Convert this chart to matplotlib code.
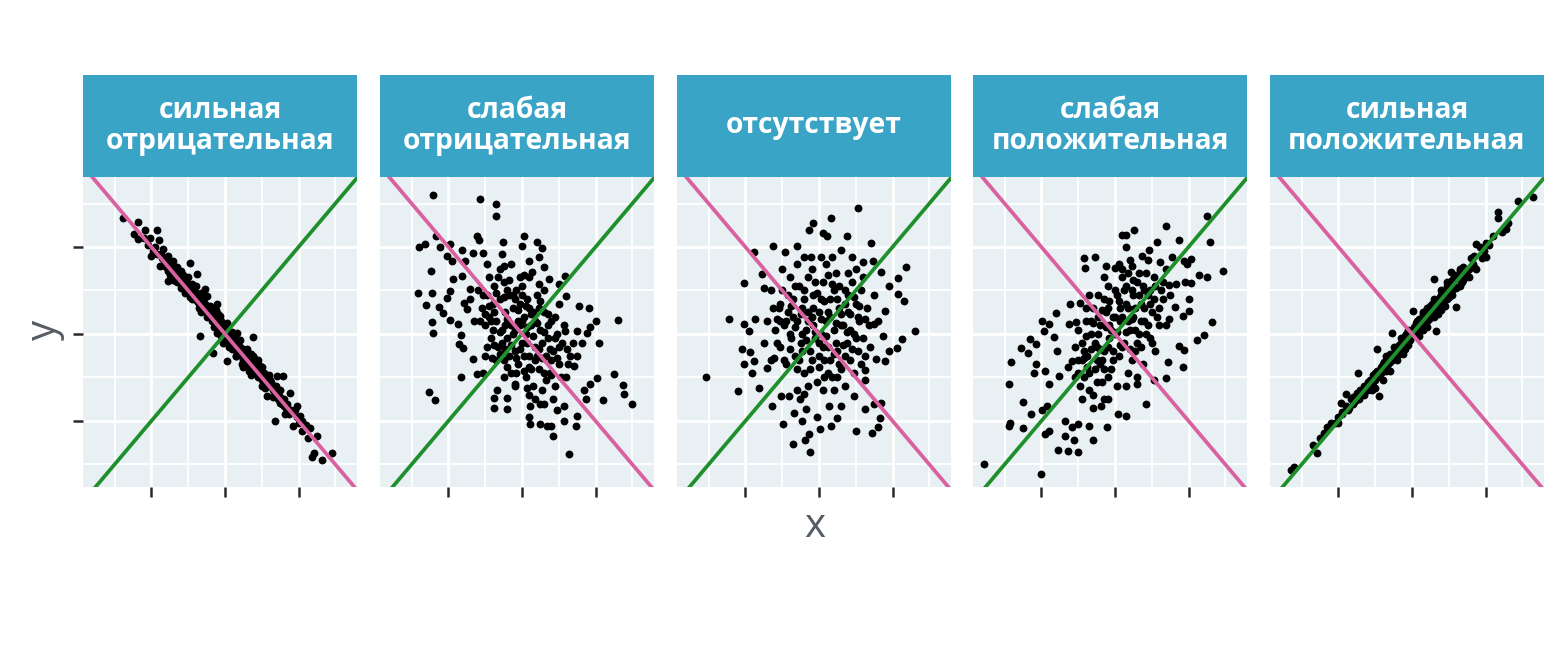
import numpy as np
import matplotlib.pyplot as plt
import matplotlib as mpl

mpl.rcParams.update({
    "font.family": ["Open Sans", "DejaVu Sans"],
})

# -------------------------
# Data (standardised units)
# -------------------------

titles = [
    "сильная\nотрицательная",
    "слабая\nотрицательная",
    "отсутствует",
    "слабая\nположительная",
    "сильная\nположительная",
]

pts_strong_neg = [
    (-2.77, 2.66), (-2.36, 2.57), (-2.48, 2.30), (-2.36, 2.18), (-2.18, 2.38), (-1.86, 2.40),
    (-1.80, 2.15), (-2.00, 1.80), (-1.68, 1.95), (-1.77, 1.57), (-1.55, 1.80), (-1.41, 1.68),
    (-1.55, 1.22), (-1.32, 1.49), (-0.95, 1.63), (-1.23, 1.34), (-1.14, 1.11), (-0.77, 1.38),
    (-0.86, 1.03), (-0.55, 1.03), (-0.50, 0.88), (-0.23, 0.68), (-0.68, -0.05), (-0.36, 0.57),
    (-0.14, 0.42), (0.05, 0.26), (-0.23, 0.03), (-0.32, -0.43), (-0.05, -0.20), (0.14, -0.05),
    (0.32, 0.03), (0.75, -0.06), (0.05, -0.62), (0.32, -0.43), (0.50, -0.35), (0.59, -0.66),
    (0.77, -0.51), (0.95, -0.74), (1.05, -0.89), (1.23, -1.05), (1.41, -0.97), (1.59, -0.97),
    (1.77, -1.35), (1.14, -1.43), (1.41, -1.28), (1.50, -1.58), (1.36, -2.01), (1.64, -1.85),
    (1.95, -1.66), (1.86, -2.12), (2.05, -1.89), (2.09, -2.24), (2.32, -2.16), (2.50, -2.35),
    (2.27, -2.39), (2.41, -2.74), (2.64, -2.89), (2.91, -2.74), (2.36, -2.82),
    (-1.90, 2.00), (-1.85, 1.85), (-1.70, 1.75), (-1.60, 1.70), (-1.60, 1.55), (-1.50, 1.60),
    (-1.45, 1.45), (-1.40, 1.55), (-1.35, 1.35), (-1.30, 1.40), (-1.25, 1.25), (-1.20, 1.30),
    (-1.15, 1.20), (-1.10, 1.10), (-1.05, 1.20), (-1.00, 1.00), (-0.95, 1.10), (-0.90, 0.95),
    (-0.85, 0.85), (-0.80, 0.95), (-0.75, 0.75), (-0.70, 0.85), (-0.65, 0.70), (-0.60, 0.60),
    (-0.55, 0.70), (-0.50, 0.50), (-0.45, 0.60), (-0.40, 0.40), (-0.35, 0.45), (-0.30, 0.30),
    (-0.25, 0.35), (-0.20, 0.15), (-0.15, 0.25), (-0.10, 0.10), (-0.05, 0.00), (0.00, 0.05),
    (0.05, -0.10), (0.10, 0.00), (0.15, -0.20), (0.20, -0.10), (0.25, -0.30), (0.30, -0.20),
    (0.35, -0.40), (0.40, -0.30), (0.45, -0.50), (0.50, -0.45), (0.55, -0.60), (0.60, -0.50),
    (0.65, -0.70), (0.70, -0.60), (0.75, -0.80), (0.80, -0.70), (0.85, -0.90), (0.90, -0.80),
    (0.95, -1.00), (1.00, -0.90), (1.05, -1.10), (1.10, -1.00), (1.20, -1.20), (1.25, -1.10),
    (1.30, -1.30), (1.40, -1.35), (1.50, -1.45), (1.60, -1.50), (1.70, -1.60), (1.80, -1.75),
    (1.95, -1.90), (2.10, -2.00), (2.20, -2.10), (-1.20, 1.05), (-0.90, 1.15), (-0.65, 0.95),
    (-0.40, 0.65), (-0.10, 0.30), (0.20, -0.35), (0.45, -0.70), (0.70, -0.95), (1.00, -1.20),
    (-1.00, 1.30), (-0.70, 0.60), (-0.30, 0.15), (0.25, -0.05), (0.60, -0.35), (0.90, -0.60),
    (-2.20, 2.20), (-2.10, 2.05), (-2.05, 2.20), (-1.95, 1.90), (-1.75, 1.85), (-1.65, 1.60),
    (-1.45, 1.65), (-1.35, 1.50), (-1.20, 1.15), (-1.10, 1.30), (-0.95, 0.85), (-0.85, 1.00),
    (-0.75, 0.90), (-0.60, 0.75), (-0.50, 0.65), (-0.45, 0.45), (-0.35, 0.30), (-0.20, 0.30),
    (-0.15, 0.10), (0.00, -0.10), (0.10, -0.15), (0.20, -0.25), (0.30, -0.35), (0.40, -0.45),
    (0.50, -0.60), (0.60, -0.70), (0.70, -0.75), (0.85, -0.75), (0.90, -1.00), (1.00, -1.05),
    (1.15, -1.15), (1.30, -1.20), (1.45, -1.50), (1.55, -1.60), (1.65, -1.70), (1.75, -1.85),
    (1.90, -1.75), (2.00, -2.05), (-0.25, 0.55), (0.15, 0.05),
    (-1.55, 1.45), (-1.30, 1.20), (-1.05, 1.05), (-0.80, 0.80), (-0.55, 0.55), (-0.30, 0.40),
    (-0.05, 0.15), (0.20, -0.20), (0.45, -0.40), (0.70, -0.70), (0.95, -0.90), (1.20, -1.10),
    (1.35, -1.40), (-0.65, 0.50), (0.30, -0.50), (0.80, -0.55), (1.10, -1.25), (-1.15, 1.35),
    (-1.50, 1.35), (-1.40, 1.25), (-1.30, 1.55), (-1.20, 1.45), (-1.10, 0.95), (-1.00, 1.15),
    (-0.90, 0.80), (-0.80, 1.10), (-0.70, 0.70), (-0.60, 0.90), (-0.50, 0.40), (-0.40, 0.55),
    (-0.30, 0.50), (-0.20, 0.45), (-0.10, -0.05), (0.00, 0.20), (0.10, -0.30), (0.20, 0.05),
    (0.30, -0.50), (0.40, -0.15), (0.50, -0.75), (0.60, -0.60), (0.70, -0.45), (0.80, -0.90),
    (0.90, -0.70), (1.00, -0.75), (1.10, -1.15), (1.20, -0.95), (1.30, -1.45), (1.40, -1.20),
    (1.50, -1.30), (1.60, -1.65), (-0.55, 0.85), (0.35, -0.25), (0.65, -0.85),
]

pts_weak_neg = [
    (-2.43, 3.20), (-1.14, 3.11), (-0.70, 2.99), (-0.70, 2.71), (-2.79, 1.99), (-2.64, 2.07),
    (-2.34, 2.25), (-2.23, 1.99), (-2.05, 1.80), (-1.95, 2.07), (-1.91, 1.68), (-1.64, 1.92),
    (-1.55, 1.68), (-1.23, 2.26), (-1.18, 2.15), (-1.32, 1.86), (-1.06, 1.86), (-0.52, 2.12),
    (-0.55, 1.84), (-0.50, 1.57), (0.05, 2.25), (0.00, 2.03), (0.41, 2.11), (0.55, 1.97),
    (0.45, 1.76), (0.18, 1.68), (0.59, 1.53), (0.27, 1.42), (0.05, 1.35), (0.73, 1.26),
    (1.00, 1.15), (1.18, 1.34), (1.21, 0.88), (1.00, 0.68), (1.55, 0.65), (1.82, 0.59),
    (2.00, 0.30), (2.62, 0.32), (1.86, 0.15), (2.09, -0.20), (1.77, 0.03), (1.50, 0.07),
    (1.64, -0.20), (1.18, 0.07), (1.23, -0.35), (1.50, -0.51), (1.41, -0.74), (2.05, -1.01),
    (2.50, -0.91), (2.75, -1.18), (2.77, -1.39), (3.00, -1.62), (2.20, -1.52), (1.86, -1.16),
    (1.68, -1.28), (1.75, -1.49), (1.50, -1.88), (1.48, -2.11), (1.27, -2.75), (0.85, -2.35),
    (0.79, -2.12), (0.68, -2.11), (0.48, -2.06), (0.23, -2.08), (0.18, -1.91), (0.59, -1.62),
    (0.23, -1.66), (1.14, -1.66), (0.95, -1.74), (1.14, -2.01), (-0.77, -1.70), (-0.41, -1.72),
    (-0.77, -1.47), (-0.41, -1.47), (-0.68, -1.28), (-0.18, -1.16), (-2.52, -1.34), (-2.36, -1.51),
    (-1.66, -1.00), (-1.23, -0.91), (-1.06, -0.89), (-0.82, -0.55), (-1.32, -0.57), (-1.61, -0.32),
    (-1.70, -0.24), (-1.66, -0.03), (-2.41, 0.02), (-2.45, 0.28), (-1.97, 0.32), (-2.14, 0.49),
    (-2.25, 0.61), (-2.62, 0.67), (-2.84, 0.95), (-2.45, 0.95), (-2.48, 1.45), (-2.05, 0.82),
    (-1.97, 0.99), (-1.88, 1.26), (-1.73, 0.22), (-1.50, 0.57), (-1.57, 0.72), (-1.41, 1.03),
    (-1.64, 1.34),
    (-1.10, 0.60), (-1.00, 0.20), (-0.95, 0.90), (-0.90, 0.40), (-0.85, -0.10), (-0.80, 0.70),
    (-0.75, 1.10), (-0.70, 0.30), (-0.65, -0.30), (-0.60, 0.80), (-0.55, 0.10), (-0.50, 1.20),
    (-0.50, -0.60), (-0.45, 0.50), (-0.40, -0.10), (-0.35, 0.90), (-0.30, 0.20), (-0.30, -0.90),
    (-0.25, 0.60), (-0.20, -0.40), (-0.15, 1.00), (-0.10, 0.30), (-0.10, -0.70), (-0.05, 0.70),
    (0.00, -0.20), (0.05, 0.40), (0.10, -1.00), (0.10, 0.00), (0.15, 0.80), (0.20, -0.50),
    (0.25, 0.20), (0.30, -1.20), (0.30, 0.50), (0.35, -0.30), (0.40, 0.90), (0.45, -0.80),
    (0.50, 0.10), (0.55, -1.30), (0.60, 0.50), (0.65, -0.50), (0.70, -0.10), (0.75, -0.90),
    (0.80, 0.30), (0.85, -0.40), (0.90, -1.20), (0.95, 0.00), (1.00, -0.70), (1.10, -0.20),
    (1.20, -1.00), (-1.20, 1.00), (-1.30, 0.30), (-1.00, -0.50), (0.00, 1.10), (0.20, 1.30),
    (-0.60, 1.50), (-0.90, 1.30), (0.60, 1.00), (1.30, -0.50), (0.50, -1.60), (-0.20, -1.20),
    (-1.15, 0.30), (-1.05, 0.90), (-0.95, -0.30), (-0.85, 0.30), (-0.75, 0.50), (-0.70, -0.60),
    (-0.65, 1.30), (-0.55, -0.20), (-0.45, 0.20), (-0.40, 1.00), (-0.35, -0.50), (-0.25, 0.00),
    (-0.20, 0.80), (-0.15, -0.90), (-0.05, 0.20), (0.00, 0.90), (0.05, -0.50), (0.15, -0.20),
    (0.20, 0.60), (0.25, -0.80), (0.35, 0.30), (0.40, -0.50), (0.45, 0.60), (0.55, -0.20),
    (0.60, -0.90), (0.70, 0.20), (0.80, -0.60), (0.90, 0.40), (1.00, -0.30), (1.05, -1.00),
    (1.15, 0.20), (1.25, -0.70), (0.35, -1.50), (0.85, -1.50), (-0.50, -1.00), (-0.95, 1.60),
    (-0.30, 1.60), (0.20, -1.40), (1.40, -0.20), (-1.40, 0.80),
    (-0.80, 0.10), (-0.75, -0.25), (-0.70, 0.95), (-0.60, 0.05), (-0.60, -0.45), (-0.50, 0.85),
    (-0.45, -0.35), (-0.40, 0.35), (-0.35, 1.25), (-0.30, -0.25), (-0.25, 0.90), (-0.20, 0.10),
    (-0.15, -0.55), (-0.10, 0.55), (-0.05, -0.35), (0.00, 0.30), (0.05, -0.85), (0.10, 0.65),
    (0.15, 0.15), (0.20, -0.75), (0.25, 0.45), (0.30, -0.05), (0.35, -0.60), (0.40, 0.25),
    (0.45, -0.35), (0.50, 0.75), (0.55, -0.55), (0.60, 0.05), (0.65, -1.05), (0.70, 0.45),
    (0.75, -0.35), (0.80, -0.95), (0.90, -0.10), (0.95, -0.55), (-0.90, 0.65), (-1.00, 0.45),
    (0.15, -1.25), (-0.40, -0.75), (0.45, 1.15), (-0.05, 1.30),
]

pts_none = [
    (1.07, 2.90), (0.32, 2.67), (-0.15, 2.55), (-0.27, 2.40), (0.11, 2.32), (0.23, 2.26),
    (0.75, 2.26), (1.41, 2.09), (-1.25, 2.02), (-0.61, 2.03), (-1.77, 1.89), (-0.93, 1.88),
    (-0.41, 1.78), (-0.21, 1.78), (0.05, 1.76), (0.36, 1.76), (0.61, 1.92), (0.91, 1.76),
    (1.21, 1.66), (1.48, 1.68), (2.36, 1.55), (1.68, 1.42), (2.14, 1.28), (1.91, 1.11),
    (2.16, 0.92), (2.30, 0.76), (1.79, 0.53), (2.61, 0.07), (-2.05, 1.18), (-1.55, 1.38),
    (-1.50, 1.05), (-2.45, 0.35), (-2.05, 0.22), (-1.91, 0.07), (-1.73, 0.34), (-2.09, -0.35),
    (-1.88, -0.42), (-2.05, -0.70), (-1.77, -0.62), (-3.07, -0.98), (-2.21, -1.32), (-1.82, -0.89),
    (-1.64, -1.24), (-1.41, -0.78), (-1.23, -0.55), (-1.27, -1.65), (-0.97, -2.08), (-1.03, -1.42),
    (-0.82, -1.42), (-0.68, -1.82), (-0.45, -2.01), (-0.34, -1.72), (-0.52, -1.49), (-0.41, -1.39),
    (-0.06, -1.91), (-0.70, -2.52), (-0.39, -2.45), (-0.25, -2.72), (-0.27, -2.29), (0.03, -2.18),
    (0.32, -2.12), (0.48, -1.93), (1.00, -2.24), (1.45, -2.28), (1.61, -2.14), (1.66, -1.93),
    (1.50, -1.62), (1.70, -1.58), (1.25, -1.72), (0.95, -1.43), (0.59, -1.66), (0.27, -1.65),
    (1.25, -1.06), (1.25, -0.83), (1.55, -0.57), (1.80, -0.62), (1.91, -0.39), (2.11, -0.32),
    (2.25, -0.12), (1.75, -0.05), (1.50, 0.22),
    (-1.20, 0.10), (-1.10, 0.60), (-1.05, -0.30), (-1.00, 1.00), (-0.95, 0.20), (-0.90, -0.70),
    (-0.85, 0.50), (-0.80, 1.30), (-0.75, -0.10), (-0.70, 0.80), (-0.65, -0.50), (-0.60, 0.30),
    (-0.55, 1.10), (-0.50, -0.20), (-0.45, 0.60), (-0.40, -0.90), (-0.35, 0.10), (-0.30, 1.30),
    (-0.25, -0.40), (-0.20, 0.40), (-0.15, 0.90), (-0.10, -0.10), (-0.05, -1.10), (0.00, 0.50),
    (0.05, 0.00), (0.10, 1.20), (0.15, -0.60), (0.20, 0.30), (0.25, -0.30), (0.30, 0.80),
    (0.35, -1.00), (0.40, 0.10), (0.45, 1.40), (0.50, -0.40), (0.55, 0.60), (0.60, -0.80),
    (0.65, 0.20), (0.70, 1.00), (0.75, -0.20), (0.80, 0.50), (0.85, -0.60), (0.90, 1.20),
    (0.95, 0.00), (1.00, 0.70), (1.05, -0.40), (1.10, 0.30), (1.20, -0.10), (1.30, 0.60),
    (1.40, -0.30), (1.50, 0.90), (-1.30, -0.60), (-1.40, 0.30), (-1.50, -0.20), (0.00, -0.50),
    (-0.60, -1.30), (0.40, -1.30), (0.20, 1.60), (-0.20, 1.50), (0.70, -1.20), (1.20, 1.30),
    (-1.00, 1.50),
    (-1.25, 0.60), (-1.15, -0.20), (-1.05, 0.30), (-0.95, -0.60), (-0.85, 0.90), (-0.80, 0.00),
    (-0.70, 0.40), (-0.65, 1.10), (-0.55, -0.60), (-0.45, 0.00), (-0.40, 1.00), (-0.30, 0.50),
    (-0.25, -0.80), (-0.15, 0.20), (-0.10, 1.20), (0.00, -0.20), (0.05, 0.80), (0.15, -1.00),
    (0.25, 0.50), (0.30, -0.60), (0.40, 1.00), (0.45, -0.20), (0.55, 1.10), (0.60, 0.20),
    (0.70, -0.50), (0.80, 0.90), (0.85, 0.10), (0.95, -0.90), (1.05, 0.40), (1.15, 1.00),
    (1.25, -0.50), (1.35, 0.20), (0.50, -1.00), (0.10, -1.30), (-0.30, -1.20), (0.80, 1.40),
    (-0.60, 1.60), (1.00, 1.50), (-1.30, 1.00), (1.60, 0.30),
    (-0.90, 0.30), (-0.80, -0.35), (-0.75, 0.65), (-0.65, 0.15), (-0.60, -0.80), (-0.50, 0.45),
    (-0.45, -0.40), (-0.40, 0.80), (-0.35, -0.15), (-0.30, 0.30), (-0.20, -0.60), (-0.15, 0.60),
    (-0.10, 0.05), (-0.05, 0.95), (0.00, -0.75), (0.05, 0.35), (0.10, -0.30), (0.15, 0.75),
    (0.20, -0.05), (0.25, -0.90), (0.30, 0.40), (0.35, 1.15), (0.40, -0.45), (0.45, 0.25),
    (0.50, 0.80), (0.55, -0.70), (0.60, 0.45), (0.65, -0.25), (0.70, 0.70), (0.75, 0.05),
    (0.85, 0.45), (0.90, -0.35), (0.95, 0.85), (1.00, -0.10), (1.10, 0.65), (1.15, -0.70),
    (1.25, 0.35), (-1.05, 0.70), (-1.15, 0.35), (0.25, 1.35),
]

pts_weak_pos = [
    (2.49, 2.71), (1.40, 2.49), (0.52, 2.38), (0.18, 2.28), (0.29, 2.28), (2.58, 2.11),
    (1.73, 2.15), (1.15, 2.11), (0.93, 1.92), (0.73, 1.80), (0.29, 1.99), (-0.85, 1.74),
    (-0.53, 1.76), (-0.82, 1.51), (-0.25, 1.57), (0.00, 1.51), (0.47, 1.57), (1.23, 1.66),
    (1.56, 1.76), (1.88, 1.68), (2.06, 1.72), (1.95, 1.62), (2.95, 1.44), (2.50, 1.32),
    (2.29, 1.35), (1.91, 1.20), (2.06, 1.18), (1.47, 1.12), (1.65, 1.15), (2.02, 0.80),
    (2.02, 0.53), (1.64, 0.61), (1.84, 0.42), (1.47, 0.34), (2.63, 0.28), (2.43, -0.03),
    (2.23, -0.14), (1.88, -0.37), (1.75, -0.28), (1.86, -0.75), (1.45, -0.64), (1.38, -1.01),
    (1.06, -1.05), (0.85, -1.60), (0.61, -1.14), (0.31, -1.88), (0.09, -1.83), (-0.21, -2.14),
    (-0.18, -1.49), (-0.39, -1.66), (-0.60, -2.43), (-0.71, -2.11), (-1.00, -2.06), (-1.16, -2.14),
    (-1.35, -2.01), (-1.35, -2.35), (-1.12, -2.43), (-1.00, -2.72), (-1.27, -2.70), (-1.55, -2.68),
    (-1.78, -2.24), (-1.91, -2.29), (-2.00, -3.22), (-3.55, -2.99), (-2.89, -2.12), (-2.85, -2.05),
    (-2.51, -2.16), (-2.27, -1.84), (-1.98, -1.74), (-1.85, -1.66), (-2.51, -1.57), (-2.87, -1.16),
    (-2.83, -0.65), (-2.56, -0.32), (-2.32, -0.11), (-2.36, -0.43), (-2.16, -0.24), (-2.15, -0.70),
    (-2.21, -0.89), (-1.89, -0.85), (-1.80, -1.16), (-1.53, -0.97), (-1.57, -0.39), (-1.66, -0.07),
    (-1.98, 0.30), (-1.78, 0.22), (-1.94, 0.07), (-1.60, 0.48), (-1.25, 0.22), (-1.07, 0.28),
    (-1.21, 0.68), (-0.96, 0.72), (-1.18, -0.62), (-1.27, -0.75), (-0.85, -0.55),
    (-1.00, -0.60), (-0.90, -0.20), (-0.85, -1.00), (-0.80, 0.30), (-0.75, -0.50), (-0.70, -1.30),
    (-0.65, 0.00), (-0.60, 0.60), (-0.55, -0.80), (-0.50, -0.30), (-0.45, 0.90), (-0.40, 0.20),
    (-0.35, -1.10), (-0.30, -0.40), (-0.25, 0.50), (-0.20, 1.10), (-0.15, -0.10), (-0.10, -0.80),
    (-0.05, 0.40), (0.00, 0.00), (0.05, 0.90), (0.10, -0.50), (0.15, 0.30), (0.20, 1.30),
    (0.25, -0.20), (0.30, 0.70), (0.35, -0.90), (0.40, 0.10), (0.45, 1.00), (0.50, 0.40),
    (0.55, -0.40), (0.60, 1.20), (0.65, 0.00), (0.70, 0.70), (0.75, -0.70), (0.80, 0.30),
    (0.85, 1.40), (0.90, 0.90), (0.95, -0.10), (1.00, 0.50), (1.10, 1.10), (1.20, 0.20),
    (1.30, 0.80), (-0.60, -1.70), (-0.30, -1.50), (0.10, 1.60), (0.40, 1.70), (-1.10, -1.00),
    (-0.20, 0.60), (0.30, -1.20), (-0.70, 0.90), (0.60, -1.00), (1.40, 1.50), (-0.40, -0.70),
    (-1.10, -0.30), (-1.00, 0.10), (-0.95, -1.20), (-0.85, -0.40), (-0.80, 0.60), (-0.70, -0.90),
    (-0.65, 0.30), (-0.55, -0.20), (-0.50, -1.10), (-0.45, 0.40), (-0.35, -0.60), (-0.30, 0.80),
    (-0.20, -1.00), (-0.15, 0.20), (-0.05, -0.40), (0.00, 1.00), (0.05, -1.20), (0.15, 0.60),
    (0.20, -0.30), (0.30, 1.10), (0.35, 0.30), (0.45, -0.60), (0.50, 0.90), (0.55, 0.10),
    (0.65, 1.40), (0.70, -0.30), (0.80, 1.00), (0.85, 0.00), (0.95, 0.70), (1.05, 1.30),
    (1.10, -0.40), (1.20, 0.60), (1.30, 1.20), (1.40, 0.20), (-0.60, -1.40), (-0.90, -1.50),
    (0.20, 1.50), (0.90, 1.70), (-0.30, 1.30), (1.50, 0.90),
    (-0.90, -0.60), (-0.80, -0.05), (-0.75, -0.75), (-0.65, -0.35), (-0.60, 0.25), (-0.50, -0.60),
    (-0.45, 0.00), (-0.40, -0.35), (-0.35, 0.55), (-0.30, -0.80), (-0.25, 0.15), (-0.20, -0.30),
    (-0.15, 0.75), (-0.10, 0.10), (-0.05, -0.60), (0.00, 0.40), (0.05, 0.05), (0.10, 0.75),
    (0.15, -0.25), (0.20, 0.40), (0.25, 1.00), (0.30, 0.05), (0.35, 0.60), (0.40, -0.35),
    (0.45, 0.35), (0.50, 1.25), (0.55, 0.60), (0.60, -0.20), (0.65, 0.90), (0.70, 0.30),
    (0.75, 1.10), (0.80, 0.60), (0.90, 0.20), (0.95, 1.00), (1.00, -0.20), (1.05, 0.80),
    (1.15, 0.40), (-1.00, -0.90), (0.35, 1.40), (1.25, 1.00),
]

pts_strong_pos = [
    (3.30, 3.15), (2.88, 3.05), (2.34, 2.80), (2.34, 2.66), (2.56, 2.42), (2.20, 2.26),
    (1.75, 2.07), (2.02, 1.78), (1.75, 1.49), (1.20, 0.61), (0.61, 1.26), (1.06, 1.42),
    (0.02, 0.53), (0.65, 0.07), (-0.53, 0.03), (-0.94, -0.35), (-1.48, -0.89), (-0.89, -1.43),
    (-1.80, -1.39), (-1.94, -1.58), (-1.89, -1.85), (-2.21, -2.05), (-2.39, -2.28), (-2.69, -2.55),
    (-2.57, -2.74), (-3.30, -3.14), (-3.20, -3.05), (2.60, 2.55), (2.45, 2.35), (2.10, 2.05),
    (1.95, 1.90), (1.85, 2.00), (1.60, 1.75), (1.50, 1.45), (1.40, 1.55), (1.35, 1.20),
    (1.25, 1.30), (1.15, 1.10), (1.10, 1.25), (1.00, 0.95), (0.95, 1.10), (0.90, 0.80),
    (0.85, 0.95), (0.80, 0.70), (0.75, 0.85), (0.70, 0.60), (0.65, 0.75), (0.60, 0.55),
    (0.55, 0.70), (0.50, 0.40), (0.45, 0.55), (0.40, 0.30), (0.35, 0.45), (0.30, 0.20),
    (0.25, 0.35), (0.20, 0.10), (0.15, 0.30), (0.10, 0.00), (0.05, 0.15), (0.00, -0.05),
    (-0.05, 0.05), (-0.10, -0.15), (-0.15, 0.00), (-0.20, -0.25), (-0.25, -0.10), (-0.30, -0.35),
    (-0.35, -0.25), (-0.40, -0.45), (-0.45, -0.35), (-0.50, -0.55), (-0.55, -0.45), (-0.60, -0.65),
    (-0.65, -0.55), (-0.70, -0.75), (-0.75, -0.65), (-0.80, -0.85), (-0.85, -0.75), (-0.90, -0.95),
    (-0.95, -0.85), (-1.00, -1.05), (-1.05, -0.95), (-1.10, -1.15), (-1.20, -1.10), (-1.25, -1.30),
    (-1.30, -1.20), (-1.40, -1.40), (-1.50, -1.35), (-1.55, -1.55), (-1.65, -1.50), (-1.70, -1.70),
    (-1.80, -1.65), (-2.00, -1.90), (-2.10, -2.05), (-2.30, -2.15), (-2.50, -2.40), (0.50, 0.65),
    (0.30, 0.45), (0.10, 0.25), (-0.10, 0.10), (-0.30, -0.10), (-0.50, -0.30), (-0.70, -0.50),
    (0.70, 0.45), (0.90, 0.65), (1.10, 0.90), (0.40, 0.15), (0.20, -0.05), (-0.40, -0.60),
    (-0.60, -0.85), (-0.80, -1.05), (-1.00, -1.25), (1.30, 1.45), (1.55, 1.30), (0.80, 1.00),
    (2.00, 2.10), (1.90, 1.75), (1.70, 1.80), (1.65, 1.60), (1.45, 1.30), (1.30, 1.10),
    (1.20, 1.30), (1.05, 1.00), (0.95, 0.80), (0.85, 0.70), (0.75, 0.75), (0.65, 0.50),
    (0.55, 0.55), (0.45, 0.35), (0.35, 0.30), (0.20, 0.20), (0.10, 0.15), (-0.05, -0.15),
    (-0.15, -0.20), (-0.25, -0.30), (-0.35, -0.45), (-0.45, -0.50), (-0.55, -0.60), (-0.65, -0.70),
    (-0.75, -0.80), (-0.85, -0.90), (-0.95, -1.00), (-1.05, -1.10), (-1.15, -1.05), (-1.35, -1.35),
    (-1.45, -1.50), (-1.60, -1.60), (-1.75, -1.75), (-1.90, -1.80), (-2.00, -2.05), (-1.30, -1.40),
    (0.60, 0.80), (1.00, 1.15), (-0.20, -0.05), (0.30, 0.50),
    (1.55, 1.50), (1.30, 1.25), (1.05, 1.05), (0.80, 0.80), (0.55, 0.45), (0.30, 0.30),
    (0.05, 0.00), (-0.20, -0.15), (-0.45, -0.45), (-0.70, -0.65), (-0.95, -0.95), (-1.20, -1.20),
    (-1.40, -1.30), (-0.60, -0.45), (0.40, 0.60), (0.80, 0.55), (-1.10, -1.30), (1.70, 1.55),
    (1.50, 1.35), (1.40, 1.25), (1.30, 1.50), (1.20, 1.05), (1.10, 1.00), (1.00, 0.85),
    (0.90, 0.95), (0.80, 0.90), (0.70, 0.70), (0.60, 0.40), (0.50, 0.50), (0.40, 0.45),
    (0.30, 0.10), (0.20, 0.35), (0.10, 0.05), (0.00, 0.10), (-0.10, -0.25), (-0.20, -0.35),
    (-0.30, -0.20), (-0.40, -0.30), (-0.50, -0.45), (-0.60, -0.55), (-0.70, -0.85), (-0.80, -0.70),
    (-0.90, -0.85), (-1.00, -0.90), (-1.10, -1.05), (-1.20, -1.30), (-1.30, -1.25), (-1.50, -1.45),
    (-1.60, -1.45), (0.95, 1.20), (0.25, 0.15), (-0.25, -0.45), (1.15, 1.35),
]

panels = [pts_strong_neg, pts_weak_neg, pts_none, pts_weak_pos, pts_strong_pos]

# -------------------------
# Plot settings
# -------------------------

x_lim = (-3.86, 3.59)
y_lim = (-3.52, 3.61)
major = [-2, 0, 2]
minor = [-3, -1, 1, 3]

bg_color = '#e8f0f4'
strip_color = '#3aa4c6'
pink = '#d9619f'
green = '#1f8f2b'

W, H = 1568, 672
lefts = [83, 380, 677, 973, 1270]
panel_w = 274
top, bottom = 177, 487
strip_top = 75

fig = plt.figure(figsize=(W / 100, H / 100), dpi=100)

for i, (pts, title) in enumerate(zip(panels, titles)):
    ax = fig.add_axes([lefts[i] / W, 1 - bottom / H, panel_w / W, (bottom - top) / H])
    ax.set_facecolor(bg_color)
    ax.set_xlim(x_lim)
    ax.set_ylim(y_lim)

    for v in minor:
        ax.axvline(v, color='white', lw=1.3, zorder=0)
        ax.axhline(v, color='white', lw=1.3, zorder=0)
    for v in major:
        ax.axvline(v, color='white', lw=2.0, zorder=0)
        ax.axhline(v, color='white', lw=2.0, zorder=0)

    arr = np.array(pts)
    ax.scatter(arr[:, 0], arr[:, 1], s=32, color='black', linewidths=0, zorder=2)

    ax.plot([-5, 5], [-5, 5], color=green, lw=2.7, zorder=3)
    ax.plot([-5, 5], [5, -5], color=pink, lw=2.7, zorder=3)

    for s in ax.spines.values():
        s.set_visible(False)

    ax.set_xticks(major)
    ax.set_xticklabels([])
    if i == 0:
        ax.set_yticks(major)
        ax.set_yticklabels([])
    else:
        ax.set_yticks([])
    ax.tick_params(length=7.5, width=1.8, color='#2a2a2a')

    # strip on top of each panel
    sax = fig.add_axes([lefts[i] / W, 1 - top / H, panel_w / W, (top - strip_top) / H])
    sax.set_facecolor(strip_color)
    sax.set_xticks([])
    sax.set_yticks([])
    for s in sax.spines.values():
        s.set_visible(False)
    sax.text(0.5, 0.5, title, ha='center', va='center', color='white',
             fontsize=20.3, fontweight='bold', linespacing=1.12, transform=sax.transAxes)

fig.text(45 / W, 1 - 330 / H, 'y', rotation=90, ha='center', va='center',
         fontsize=29, color='#565c63')
fig.text(815 / W, 1 - 527 / H, 'x', ha='center', va='center',
         fontsize=29, color='#565c63')

fig.savefig('out.png', dpi=100, facecolor='white')
